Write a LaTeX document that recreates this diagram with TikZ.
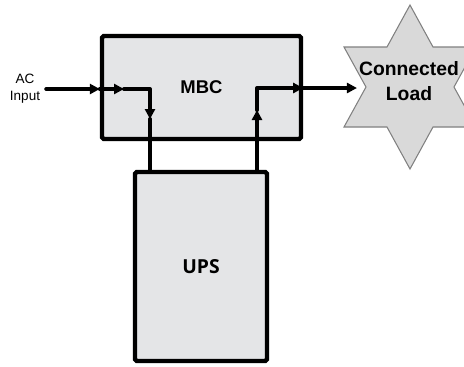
\documentclass[tikz,border=0pt]{standalone}
\usepackage{fontspec}
\setmainfont{Liberation Sans}
\newfontfamily\upsfont{Open Sans}
\usetikzlibrary{arrows.meta}
\definecolor{boxgray}{HTML}{E4E5E7}
\definecolor{stargray}{HTML}{D9D9D9}
\definecolor{starline}{HTML}{808080}
\tikzset{
  block/.style = {draw=black, fill=boxgray, line width=2.5pt, rounded corners=1pt,
    inner sep=0pt},
  wire/.style = {line width=2.3pt, line cap=round, line join=round},
  flow/.style = {-{Triangle[length=0.2cm,width=0.2cm]}},
  loadstar/.style = {fill=stargray, draw=starline, line width=0.6pt},% outline of the load
}
\begin{document}
\begin{tikzpicture}[x=0.02cm, y=-0.02cm]
\clip (0,0) rectangle (464,366);
% boxes
\node [block, minimum width=3.98cm, minimum height=2.06cm] (mbc) at (201.5,87.5)
  {\fontsize{10.5}{12}\selectfont\bfseries MBC};
\node [block, minimum width=2.64cm, minimum height=3.78cm] (ups) at (201,266.5)
  {\upsfont\fontsize{11}{13}\selectfont\bfseries UPS};
% load star
\coordinate (loadc) at (410,87);
\draw [loadstar] (loadc) ++(0,-82) -- ++(23,42) -- ++(43,0) -- ++(-22,40)
  -- ++(22,40) -- ++(-43,0) -- ++(-23,42) -- ++(-23,-42) -- ++(-43,0)
  -- ++(22,-40) -- ++(-22,-40) -- ++(43,0) -- cycle;
\node [align=center, inner sep=1pt, font=\fontsize{11}{14}\selectfont\bfseries]
  (load) at (409,81) {Connected\\Load};
\node [align=center, font=\fontsize{7.7}{9.6}\selectfont] (acin) at (25,89) {AC\\Input};
% bends
\coordinate (inB) at (124,89);
\coordinate (bendL) at (150,89);
\coordinate (dnL) at (150,119);
\coordinate (bendR) at (257,88);
\coordinate (upR) at (257,110);
% wires
\draw [wire, flow] (acin.east) -- (acin.east -| mbc.west);
\draw [wire, flow] (acin.east -| mbc.west) -- (inB);
\draw [wire, flow] (inB) -- (bendL) -- (dnL);
\draw [wire] (dnL) -- (dnL |- ups.north);
\draw [wire, flow] (upR |- ups.north) -- (upR);
\draw [wire, flow] (upR) -- (bendR) -- (bendR -| mbc.east);
\draw [wire, flow] (bendR -| mbc.east) -- (bendR -| load.west);
\end{tikzpicture}
\end{document}
